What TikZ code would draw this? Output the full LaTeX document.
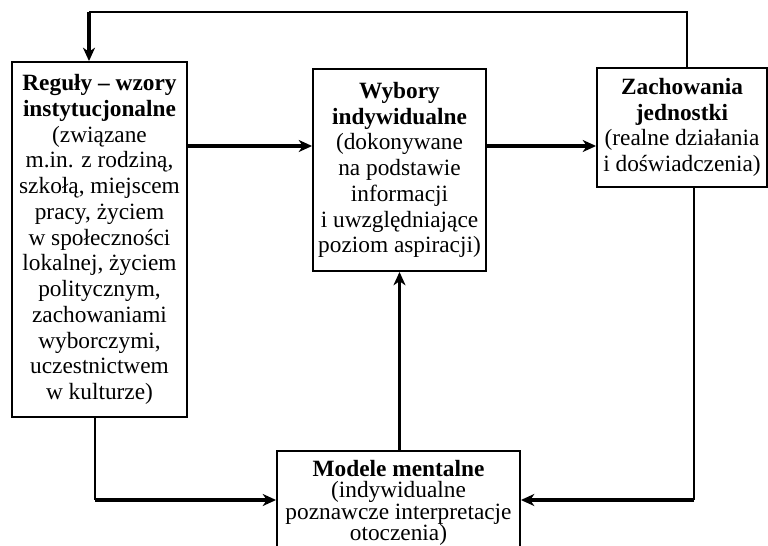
\documentclass[tikz,border=0pt]{standalone}
\usepackage{fontspec}
\setmainfont{Liberation Serif}
\usetikzlibrary{positioning, arrows.meta}
\tikzset{
  box/.style={
      rectangle,
      draw,
      line width=1.4pt,
      align=center,
      inner sep=0pt,
      font=\fontsize{17.5}{19.3}\selectfont
    },
  arr/.style={
      -{Stealth[length=10pt,width=9pt,inset=3pt]},
      line width=2.6pt
    },
  link/.style={
      line width=1.6pt
    }
}

\begin{document}
\begin{tikzpicture}[x=0.75pt, y=-0.75pt]
  \useasboundingbox (0,0) rectangle (768,546);
  \node[box, minimum width=131.25pt, minimum height=266.25pt] (rules) at (99.5,239.5)
    {\textbf{Reguły – wzory}\\\textbf{instytucjonalne}\\(związane\\m.in. z rodziną,\\szkołą, miejscem\\pracy, życiem\\w społeczności\\lokalnej, życiem\\politycznym,\\zachowaniami\\wyborczymi,\\uczestnictwem\\w kulturze)};
  \node[box, minimum width=129.75pt, minimum height=151.5pt] (choice) at (399.5,170)
    {\textbf{Wybory}\\\textbf{indywidualne}\\(dokonywane\\na podstawie\\informacji\\i uwzględniające\\poziom aspiracji)};
  \node[box, minimum width=127.5pt, minimum height=89.25pt] (behav) at (682,127.5)
    {\textbf{Zachowania}\\\textbf{jednostki}\\(realne działania\\i doświadczenia)};
  \node[box, minimum width=182.25pt, minimum height=78pt,
    font=\fontsize{17.5}{16}\selectfont] (models) at (398.5,503)
    {\textbf{Modele mentalne}\\(indywidualne\\poznawcze interpretacje\\otoczenia)};
  % arrows between boxes
  \coordinate (h) at (0,146);
  \draw[arr] (rules.east |- h) -- (choice.west |- h);
  \draw[arr] (choice.east |- h) -- (behav.west |- h);
  \draw[arr] (models.north -| choice.south) -- (choice.south);
  % feedback loop on top
  \coordinate (tl) at (89,12); \coordinate (tr) at (687,12);
  \draw[link] (behav.north -| tr) -- (tr) -- (tl);
  \draw[arr] (tl) -- (tl |- rules.north);
  % links down to the mental models
  \coordinate (bl) at (95,500); \coordinate (br) at (694,500);
  \draw[link] (rules.south -| bl) -- (bl);
  \draw[arr] (bl) -- (bl -| models.west);
  \draw[link] (behav.south -| br) -- (br);
  \draw[arr] (br) -- (br -| models.east);
\end{tikzpicture}
\end{document}
